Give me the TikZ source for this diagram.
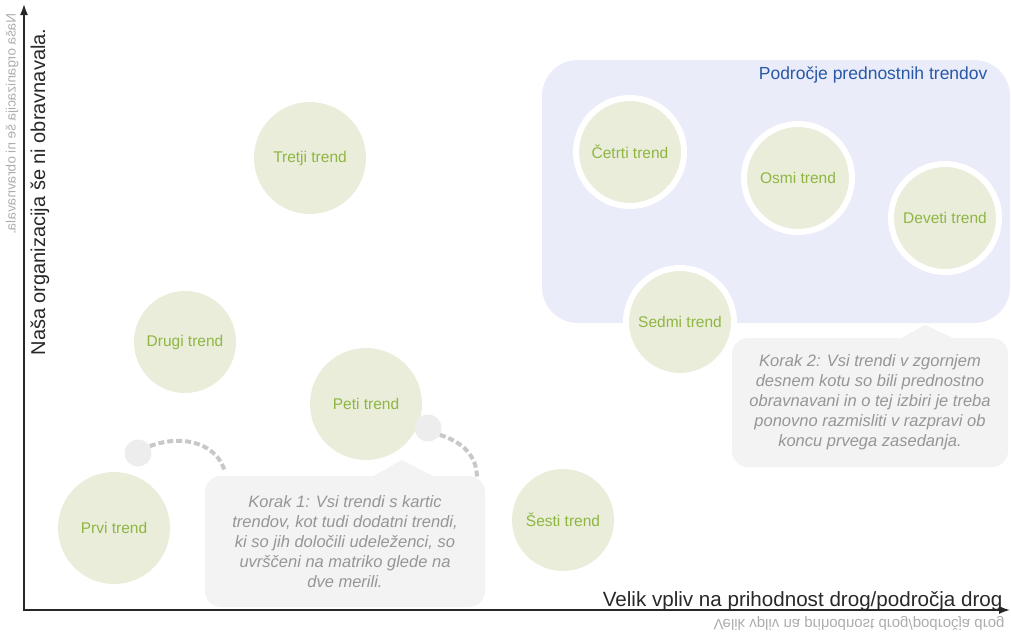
\documentclass[tikz,border=0pt]{standalone}
\usepackage{tikz}
\usepackage{xcolor}
\usepackage{fontspec}
\setmainfont{Liberation Sans}
\usetikzlibrary{arrows.meta}

\definecolor{trendfill}{RGB}{233,237,218}
\definecolor{trendtext}{RGB}{143,182,66}
\definecolor{areafill}{RGB}{234,236,249}
\definecolor{areatext}{RGB}{40,88,168}
\definecolor{notefill}{RGB}{243,243,243}
\definecolor{notetext}{RGB}{150,150,150}
\definecolor{dotgray}{RGB}{200,200,200}
\definecolor{axisgray}{RGB}{40,40,40}

\begin{document}
\begin{tikzpicture}[x=1pt, y=-1pt,
    trend/.style={circle, fill=trendfill, minimum size=112pt, inner sep=0pt,
        text=trendtext, font=\fontsize{15.5}{18}\selectfont},
    ringed/.style={trend, minimum size=108pt, draw=white, line width=6pt},
    note/.style={fill=notefill, rounded corners=16pt, text=notetext, align=center,
        inner sep=0pt, font=\fontsize{16.5}{20}\selectfont\itshape},
    dot/.style={circle, fill=black!7, minimum size=27pt, inner sep=0pt},
    link/.style={dotgray, line width=4pt, dash pattern=on 6pt off 3pt},
    faint/.style={text=black!32, transform shape}]
    \useasboundingbox (0,0) rectangle (1011,635);

    % Area
    \fill[areafill, rounded corners=36pt] (542,60) rectangle (1010,323);
    \node[text=areatext, anchor=east, font=\fontsize{17.5}{20}\selectfont] (area) at (991,75) {Področje prednostnih trendov};

    % Nodes
    \node[trend] (tretji) at (310,158) {Tretji trend};
    \node[trend, minimum size=102pt] (drugi) at (185,342) {Drugi trend};
    \node[trend] (peti) at (366,404) {Peti trend};
    \node[trend] (prvi) at (114,528) {Prvi trend};
    \node[trend, minimum size=102pt] (sesti) at (563,520) {Šesti trend};
    \node[ringed] (cetrti) at (630,152) {Četrti trend};
    \node[ringed] (osmi) at (798,178) {Osmi trend};
    \node[ringed] (deveti) at (945,218) {Deveti trend};
    \node[ringed] (sedmi) at (680,322) {Sedmi trend};

    % Notes
    \node[note, minimum width=280pt, minimum height=131pt] (korak1) at (345,541.5)
        {Korak 1: Vsi trendi s kartic\\trendov, kot tudi dodatni trendi,\\ki so jih določili udeleženci, so\\uvrščeni na matriko glede na\\dve merili.};
    \fill[notefill] ([xshift=27pt,yshift=-1pt]korak1.north) -- ([xshift=57pt,yshift=16pt]korak1.north) -- ([xshift=89pt,yshift=-1pt]korak1.north) -- cycle;
    \node[note, minimum width=276pt, minimum height=129pt] (korak2) at (870,402.5)
        {Korak 2: Vsi trendi v zgornjem\\desnem kotu so bili prednostno\\obravnavani in o tej izbiri je treba\\ponovno razmisliti v razpravi ob\\koncu prvega zasedanja.};
    \fill[notefill] ([xshift=30pt,yshift=-1pt]korak2.north) -- ([xshift=55pt,yshift=13pt]korak2.north) -- ([xshift=85pt,yshift=-1pt]korak2.north) -- cycle;

    % Links
    \node[dot] (dotA) at (138,453) {};
    \node[dot] (dotB) at (428,428) {};
    \coordinate (tipA) at (225,472);
    \coordinate (tipB) at (477,478);
    \draw[link] (dotA.30) .. controls (185,433) and (218,445) .. (tipA);
    \draw[link] (dotB.-30) .. controls (462,442) and (477,455) .. (tipB);

    % Axes
    \coordinate (origin) at (24,610);
    \coordinate (ytip) at (24,4);
    \coordinate (xtip) at (1010,610);
    \draw[axisgray, line width=1.6pt, {Latex[length=11pt,width=8pt]}-{Latex[length=11pt,width=8pt]}] (ytip) -- (origin) -- (xtip);

    % Labels
    \node[rotate=90, text=axisgray, font=\fontsize{20}{24}\selectfont] (ylab) at (40,192) {Naša organizacija še ni obravnavala.};
    \node[anchor=base east, text=axisgray, font=\fontsize{20.6}{24}\selectfont] (xlab) at (1006,606) {Velik vpliv na prihodnost drog/področja drog};
    \node[faint, yscale=-1, rotate=90, font=\fontsize{13.5}{16}\selectfont] (ymir) at (12,124) {Naša organizacija še ni obravnavala.};
    \node[faint, yscale=-1, font=\fontsize{15}{18}\selectfont] (xmir) at (859,623) {Velik vpliv na prihodnost drog/področja drog};
\end{tikzpicture}
\end{document}
